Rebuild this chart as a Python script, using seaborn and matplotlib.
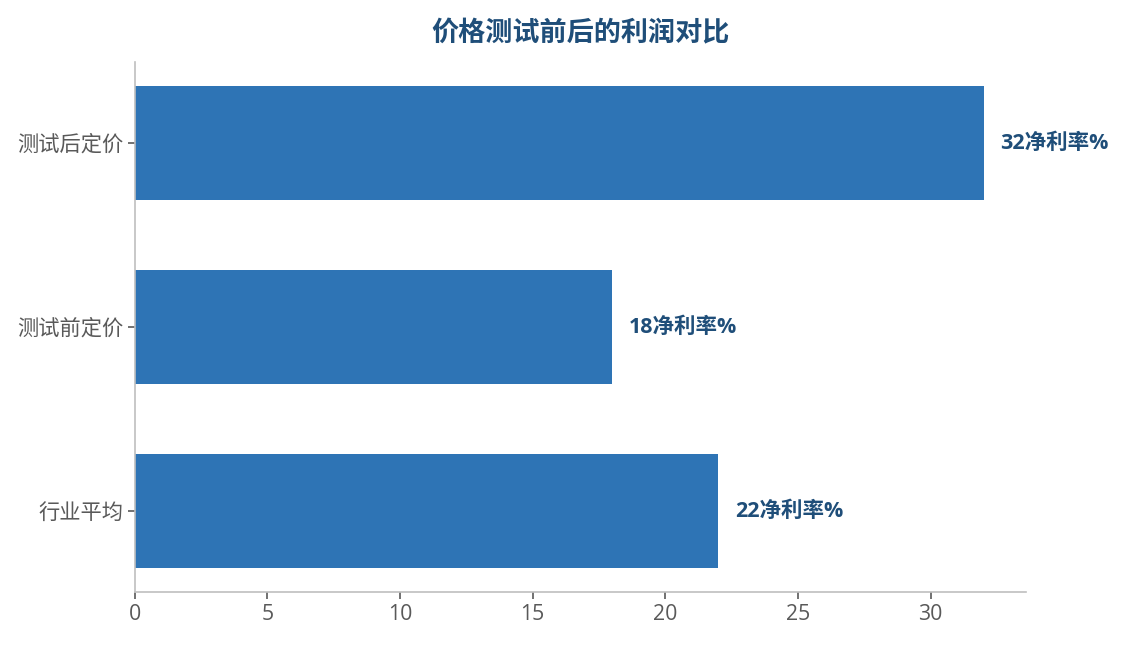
import matplotlib
matplotlib.use('Agg')
import matplotlib.pyplot as plt
import seaborn as sns
import pandas as pd

# ── Data ──────────────────────────────────────────────
categories = ['测试后定价', '测试前定价', '行业平均']
net_margin = [32, 18, 22]
value_labels = [f'{v}净利率%' for v in net_margin]

df = pd.DataFrame({'category': categories, 'margin': net_margin})

sns.set_style('white')
plt.rcParams['font.family'] = ['Open Sans', 'Noto Sans CJK SC', 'DejaVu Sans']

fig = plt.figure(figsize=(11.24, 6.45), dpi=100)
ax = fig.add_axes([0.12, 0.0822, 0.7928, 0.8217])

sns.barplot(data=df, y='category', x='margin', color='#2E74B5',
            saturation=1, width=0.62, ax=ax, orient='h', linewidth=0)

for i, (v, lab) in enumerate(zip(net_margin, value_labels)):
    ax.annotate(lab, xy=(v, i), xytext=(12, 0), textcoords='offset points',
                va='center', ha='left', fontsize=15.5, fontweight='bold',
                color='#1F4E79')

ax.set_xlim(0, 33.6)
ax.set_ylim(2.44, -0.44)
ax.set_xlabel('')
ax.set_ylabel('')
ax.set_title('价格测试前后的利润对比', fontsize=19.5, fontweight='bold',
             color='#1F4E79', pad=15)

for s in ['top', 'right']:
    ax.spines[s].set_visible(False)
for s in ['left', 'bottom']:
    ax.spines[s].set_color('#bfbfbf')
    ax.spines[s].set_linewidth(1.2)
ax.tick_params(axis='both', labelcolor='#595959', color='#595959',
               labelsize=15.3, length=5, width=1.2, left=True, bottom=True)

fig.savefig('out.png', dpi=100)
